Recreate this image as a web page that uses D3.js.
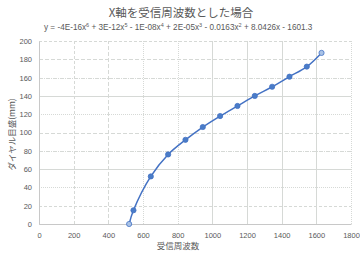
<!DOCTYPE html>
<html>
<head>
<meta charset="utf-8">
<script src="https://cdn.jsdelivr.net/npm/d3@7"></script>
<style>
  body { margin: 0; background: #fff; }
  text { font-family: "Noto Sans CJK JP", "Noto Sans", sans-serif; fill: #595959; }
</style>
</head>
<body>
<svg id="chart" width="360" height="254"></svg>
<script>
// received frequency vs dial position
const freq = [520, 545, 645, 745, 845, 945, 1045, 1145, 1245, 1345, 1445, 1545, 1630];
const dial = [0, 15, 52, 76, 92, 106, 118, 129, 140, 150, 161, 172, 187];
const xTicks = [0, 200, 400, 600, 800, 1000, 1200, 1400, 1600, 1800];
const yTicks = [0, 20, 40, 60, 80, 100, 120, 140, 160, 180, 200];

const title = "X軸を受信周波数とした場合";
const xTitle = "受信周波数";
const yTitle = "ダイヤル目盛(mm)";
// trendline equation: [coef, power]
const eqTerms = [["y = -4E-16x", "6"], [" + 3E-12x", "5"], [" - 1E-08x", "4"], [" + 2E-05x", "3"], [" - 0.0163x", "2"], [" + 8.0426x - 1601.3", null]];

const svg = d3.select("#chart");
const m = {left: 39, right: 9, top: 41, bottom: 30};
const W = 360, H = 254;

const x = d3.scaleLinear().domain([0, 1800]).range([m.left, W - m.right]);
const y = d3.scaleLinear().domain([0, 200]).range([H - m.bottom, m.top]);

// gridline dash styles (excel looks a bit uneven at this size)
const hDash = ["", "3,2", "1,1", "", "4,1,1,1", "4,2", "1,1", "", "4,1,1,1", "4,2", "3,2"];
const vDash = ["", "3,2", "4,2", "1,1", "1,1", "", "", "", "", "1,1"];

svg.append("g").selectAll("line.h")
  .data(yTicks)
  .enter().append("line")
  .attr("x1", x(0)).attr("x2", x(1800))
  .attr("y1", d => Math.round(y(d)) + 0.5).attr("y2", d => Math.round(y(d)) + 0.5)
  .attr("stroke", "#d6d9d6")
  .attr("stroke-width", 1)
  .attr("stroke-dasharray", (d, i) => hDash[i]);

svg.append("g").selectAll("line.v")
  .data(xTicks)
  .enter().append("line")
  .attr("y1", y(0)).attr("y2", y(200))
  .attr("x1", d => Math.round(x(d)) + 0.5).attr("x2", d => Math.round(x(d)) + 0.5)
  .attr("stroke", "#d6d9d6")
  .attr("stroke-width", 1)
  .attr("stroke-dasharray", (d, i) => vDash[i]);

// axes
const xAxis = svg.append("g")
  .attr("transform", `translate(0,${y(0)})`)
  .call(d3.axisBottom(x).tickValues(xTicks).tickFormat(d3.format("d")).tickSize(0).tickPadding(9));
const yAxis = svg.append("g")
  .attr("transform", `translate(${m.left},0)`)
  .call(d3.axisLeft(y).tickValues(yTicks).tickFormat(d3.format("d")).tickSize(0).tickPadding(7));
[xAxis, yAxis].forEach(a => {
  a.select(".domain").attr("stroke", "#c8c8c8");
  a.selectAll("text").style("font-size", "7.5px").attr("fill", "#595959")
    .style("font-family", "'Liberation Sans', Arial, sans-serif");
});

// series
const pts = freq.map((f, i) => ({x: f, y: dial[i]}));
const line = d3.line()
  .x(d => x(d.x)).y(d => y(d.y))
  .curve(d3.curveCatmullRom.alpha(0.5));

svg.append("path")
  .datum(pts)
  .attr("d", line)
  .attr("fill", "none")
  .attr("stroke", "#4472c4")
  .attr("stroke-width", 1.5);

svg.append("g").selectAll("circle")
  .data(pts)
  .enter().append("circle")
  .attr("cx", d => x(d.x))
  .attr("cy", d => y(d.y))
  .attr("r", 2.6)
  .attr("fill", (d, i) => (i === 0 || i === pts.length - 1) ? "#a9c2e6" : "#4a7cc8")
  .attr("stroke", "#4472c4")
  .attr("stroke-width", 0.8);

// titles
svg.append("text")
  .attr("x", 181).attr("y", 17)
  .attr("text-anchor", "middle")
  .style("font-size", "11.5px")
  .text(title);

const eq = svg.append("text")
  .attr("x", 44).attr("y", 30)
  .style("font-size", "8.2px")
  .style("font-family", "'Liberation Sans', Arial, sans-serif");
let shift = 0;
eqTerms.forEach(t => {
  eq.append("tspan").attr("dy", shift).text(t[0]);
  shift = 0;
  if (t[1]) {
    eq.append("tspan").attr("dy", -3).style("font-size", "5.5px").text(t[1]);
    shift = 3;
  }
});

svg.append("text")
  .attr("x", 178).attr("y", 249)
  .attr("text-anchor", "middle")
  .style("font-size", "8.5px")
  .text(xTitle);

svg.append("text")
  .attr("transform", `translate(15,${(y(0) + y(200)) / 2 + 2}) rotate(-90)`)
  .attr("text-anchor", "middle")
  .style("font-size", "8.5px")
  .text(yTitle);
</script>
</body>
</html>
